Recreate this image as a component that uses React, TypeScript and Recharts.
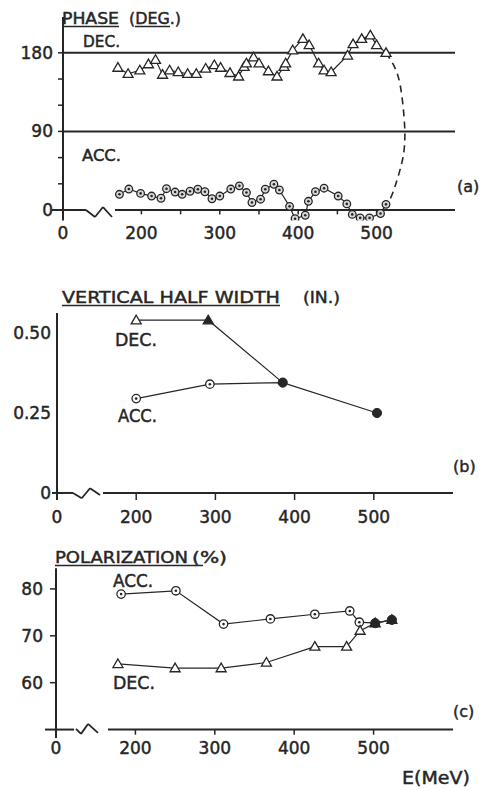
import React from 'react';
import { LineChart, Line, XAxis, YAxis, ReferenceLine } from 'recharts';

const FONT = '"DejaVu Sans", sans-serif';
const INK = '#262626';

// shared energy axis (broken: the "0" sits where 100 MeV would be)
const xTicks = [100, 200, 300, 400, 500];
const xTickLabels = ['0', '200', '300', '400', '500'];

// (a) phase, degrees
const decPhaseE = [170, 183, 198, 209, 218, 227, 236, 247, 259, 270, 282, 293, 301, 313, 324, 331, 334, 343, 350, 362, 373, 382, 384, 393, 406, 414, 426, 433, 442, 463, 470, 481, 492, 500, 512];
const decPhase = [163, 156, 160, 167, 172, 155, 160, 158, 156, 156, 162, 166, 163, 157, 153, 164, 168, 175, 168, 159, 153, 164, 168, 183, 196, 189, 168, 160, 158, 177, 190, 196, 200, 189, 180];
const accPhaseE = [172, 184, 199, 213, 225, 232, 243, 252, 262, 272, 281, 290, 300, 314, 325, 334, 341, 352, 358, 369, 376, 389, 396, 409, 413, 422, 433, 451, 462, 469, 479, 491, 505, 512];
const accPhase = [18, 24, 19, 16, 13.5, 24.4, 20.6, 18, 21.5, 23.8, 20.9, 12.9, 16, 24, 27.7, 20, 8.6, 12.4, 23.8, 29.5, 22.9, 4.2, -10, -6, 10, 21, 25, 16, 7, -5, -9, -9, -4, 6.5];
const joinE = [512, 526, 533, 536, 534, 527, 519, 512];
const joinPhase = [180, 157, 125, 90, 62, 37, 16, 6.5];
const phaseTicks = [0, 30, 60, 90, 120, 150, 180];
const phaseLabels = [0, 90, 180];

// (b) vertical half width, inches
const decWidthE = [200, 291, 385];
const decWidth = [0.54, 0.54, 0.345];
const accWidthE = [200, 293, 385, 504];
const accWidth = [0.295, 0.34, 0.345, 0.25];
const widthTicks = [0, 0.25, 0.5];
const widthLabels = ['0', '0.25', '0.50'];

// (c) polarization, percent
const accPolE = [182, 251, 311, 370, 426, 470, 482, 502, 523];
const accPol = [78.9, 79.6, 72.5, 73.6, 74.6, 75.3, 72.9, 72.7, 73.4];
const decPolE = [178, 250, 308, 365, 426, 466, 483, 502, 523];
const decPol = [64, 63.1, 63.1, 64.3, 67.7, 67.7, 71.1, 72.7, 73.4];
const polTicks = [60, 70, 80];

const pts = (es: number[], vs: number[]) => es.map((e, i) => ({ e, v: vs[i] }));
const fmtX = (v: number) => xTickLabels[xTicks.indexOf(v)] ?? '';

const triDot = (filled: number[] = [], skip: number[] = []) => (p: any) => {
  const { cx, cy, index } = p;
  if (cx == null || cy == null || skip.includes(index)) return <g key={`t${index}`} />;
  const f = filled.includes(index);
  return (
    <polygon
      key={`t${index}`}
      points={`${cx},${cy - 5} ${cx - 5},${cy + 3.6} ${cx + 5},${cy + 3.6}`}
      fill={f ? INK : '#fff'}
      stroke={INK}
      strokeWidth={1.3}
    />
  );
};

const circDot = (filled: number[] = [], bg = '#fff', r = 4.2) => (p: any) => {
  const { cx, cy, index } = p;
  if (cx == null || cy == null) return <g key={`c${index}`} />;
  if (filled.includes(index)) {
    return <circle key={`c${index}`} cx={cx} cy={cy} r={4.6} fill={INK} stroke={INK} strokeWidth={1} />;
  }
  return (
    <g key={`c${index}`}>
      <circle cx={cx} cy={cy} r={r} fill={bg} stroke={INK} strokeWidth={1.3} />
      <circle cx={cx} cy={cy} r={1.3} fill={INK} />
    </g>
  );
};

const seg = (x1: number, y1: number, x2: number, y2: number, w = 2, k = '') => (
  <ReferenceLine
    key={k || `${x1}-${y1}-${x2}-${y2}`}
    segment={[{ x: x1, y: y1 }, { x: x2, y: y2 }]}
    stroke={INK}
    strokeWidth={w}
    ifOverflow="visible"
  />
);

const tickStyle = { fill: INK, fontSize: 17, stroke: INK, strokeWidth: 0.45 };

function PanelA() {
  return (
    <LineChart width={481} height={250} margin={{ top: 17, right: 26, bottom: 4.5, left: 0 }}>
      <XAxis type="number" dataKey="e" domain={[100, 600]} ticks={xTicks} tickFormatter={fmtX} interval={0}
        axisLine={false} tickLine={false} tickSize={0} tickMargin={6.5} height={25} allowDataOverflow tick={tickStyle} />
      <YAxis type="number" dataKey="v" domain={[-12, 221]} ticks={phaseTicks} interval={0}
        tickFormatter={(v: number) => (phaseLabels.includes(v) ? String(v) : '')}
        width={63} allowDataOverflow axisLine={{ stroke: INK, strokeWidth: 2 }}
        tickLine={{ stroke: INK, strokeWidth: 1.5 }} tickSize={5} tickMargin={5} tick={tickStyle} />
      <ReferenceLine y={180} stroke={INK} strokeWidth={2} />
      <ReferenceLine y={90} stroke={INK} strokeWidth={2} />
      {seg(86, 0, 129.3, 0)}
      {seg(129.3, 0, 140.8, -8, 1.8)}
      {seg(140.8, -8, 151, 3.4, 1.8)}
      {seg(151, 3.4, 162.5, -8, 1.8)}
      {seg(166.3, 0, 600, 0)}
      {[200, 250, 300, 350, 400, 450, 500].map((x) => seg(x, 0, x, -5, 1.5, `ta${x}`))}
      <Line data={pts(joinE, joinPhase)} dataKey="v" type="natural" stroke={INK} strokeWidth={1.6}
        strokeDasharray="7 5" dot={false} isAnimationActive={false} />
      <Line data={pts(decPhaseE, decPhase)} dataKey="v" type="linear" stroke={INK} strokeWidth={1.2}
        dot={triDot()} isAnimationActive={false} />
      <Line data={pts(accPhaseE, accPhase)} dataKey="v" type="linear" stroke={INK} strokeWidth={1.2}
        dot={circDot([], '#d8d8d8', 3.8)} isAnimationActive={false} />
    </LineChart>
  );
}

function PanelB() {
  return (
    <LineChart width={481} height={250} margin={{ top: 33, right: 28, bottom: 5, left: 0 }}>
      <XAxis type="number" dataKey="e" domain={[100, 600]} ticks={xTicks} tickFormatter={fmtX} interval={0}
        axisLine={false} tickLine={false} tickSize={0} tickMargin={10.5} height={25} allowDataOverflow tick={tickStyle} />
      <YAxis type="number" dataKey="v" domain={[-0.022, 0.5625]} ticks={widthTicks} interval={0}
        tickFormatter={(v: number) => widthLabels[widthTicks.indexOf(v)] ?? ''}
        width={57} allowDataOverflow axisLine={{ stroke: INK, strokeWidth: 2 }}
        tickLine={false} tickSize={0} tickMargin={6} tick={tickStyle} />
      {seg(93.7, 0, 120.2, 0)}
      {seg(120.2, 0, 131.2, -0.0166, 1.8)}
      {seg(131.2, -0.0166, 141.7, 0.0147, 1.8)}
      {seg(141.7, 0.0147, 154.3, -0.00625, 1.8)}
      {seg(158.1, 0, 600, 0)}
      {[200, 300, 400, 500].map((x) => seg(x, 0, x, -0.022, 1.5, `tb${x}`))}
      <Line data={pts(accWidthE, accWidth)} dataKey="v" type="linear" stroke={INK} strokeWidth={1.2}
        dot={circDot([2, 3])} isAnimationActive={false} />
      <Line data={pts(decWidthE, decWidth)} dataKey="v" type="linear" stroke={INK} strokeWidth={1.2}
        dot={triDot([1], [2])} isAnimationActive={false} />
    </LineChart>
  );
}

function PanelC() {
  return (
    <LineChart width={481} height={250} margin={{ top: 28.3, right: 28, bottom: 27, left: 0 }}>
      <XAxis type="number" dataKey="e" domain={[100, 600]} ticks={xTicks} tickFormatter={fmtX} interval={0}
        axisLine={false} tickLine={false} tickSize={0} tickMargin={4} height={25} allowDataOverflow tick={tickStyle} />
      <YAxis type="number" dataKey="v" domain={[48.2, 84.4]} ticks={polTicks} interval={0}
        width={56} allowDataOverflow axisLine={{ stroke: INK, strokeWidth: 2 }}
        tickLine={{ stroke: INK, strokeWidth: 1.5 }} tickSize={6} tickMargin={7} tick={tickStyle} />
      {seg(86.1, 50, 122.7, 50)}
      {seg(125.2, 50.15, 131.5, 49.08, 1.8)}
      {seg(131.5, 49.08, 140.3, 51.2, 1.8)}
      {seg(140.3, 51.2, 152.9, 49.3, 1.8)}
      {seg(165.5, 50, 600, 50)}
      {[200, 300, 400, 500].map((x) => seg(x, 50, x, 48.9, 1.5, `tc${x}`))}
      <Line data={pts(accPolE, accPol)} dataKey="v" type="linear" stroke={INK} strokeWidth={1.2}
        dot={circDot([7, 8])} isAnimationActive={false} />
      <Line data={pts(decPolE, decPol)} dataKey="v" type="linear" stroke={INK} strokeWidth={1.2}
        dot={triDot([7, 8])} isAnimationActive={false} />
    </LineChart>
  );
}

function Labels() {
  const t = { fill: INK, fontFamily: FONT, stroke: INK, strokeWidth: 0.45 } as const;
  return (
    <svg width={481} height={790} style={{ position: 'absolute', left: 0, top: 0, pointerEvents: 'none' }}>
      {/* (a) */}
      <text x={62} y={23.5} fontSize={15} textLength={57} lengthAdjust="spacingAndGlyphs" {...t}>PHASE</text>
      <text x={129} y={23.5} fontSize={15} textLength={52} lengthAdjust="spacingAndGlyphs" {...t}>(DEG.)</text>
      <line x1={62} x2={119} y1={26.5} y2={26.5} stroke={INK} strokeWidth={1.5} />
      <line x1={135} x2={170} y1={26.5} y2={26.5} stroke={INK} strokeWidth={1.5} />
      <text x={83} y={47} fontSize={15} textLength={37} lengthAdjust="spacingAndGlyphs" {...t}>DEC.</text>
      <text x={82} y={161} fontSize={15} textLength={39} lengthAdjust="spacingAndGlyphs" {...t}>ACC.</text>
      <text x={457} y={192} fontSize={16} {...t}>(a)</text>
      {/* (b) */}
      <text x={62} y={302.5} fontSize={16} textLength={218} lengthAdjust="spacingAndGlyphs" {...t}>VERTICAL HALF WIDTH</text>
      <line x1={62} x2={280} y1={305.5} y2={305.5} stroke={INK} strokeWidth={1.5} />
      <text x={303} y={302.5} fontSize={16} textLength={37} lengthAdjust="spacingAndGlyphs" {...t}>(IN.)</text>
      <text x={115} y={345.5} fontSize={17} textLength={42} lengthAdjust="spacingAndGlyphs" {...t}>DEC.</text>
      <text x={118} y={422} fontSize={17} textLength={39} lengthAdjust="spacingAndGlyphs" {...t}>ACC.</text>
      <text x={453} y={472} fontSize={16} {...t}>(b)</text>
      {/* (c) */}
      <text x={55} y={562.5} fontSize={16} textLength={133} lengthAdjust="spacingAndGlyphs" {...t}>POLARIZATION</text>
      <text x={192} y={562.5} fontSize={16} textLength={35} lengthAdjust="spacingAndGlyphs" {...t}>(%)</text>
      <line x1={55} x2={203} y1={565.5} y2={565.5} stroke={INK} strokeWidth={1.5} />
      <text x={113} y={587} fontSize={17} textLength={40} lengthAdjust="spacingAndGlyphs" {...t}>ACC.</text>
      <text x={113} y={688.5} fontSize={17} textLength={42} lengthAdjust="spacingAndGlyphs" {...t}>DEC.</text>
      <text x={453} y={717} fontSize={16} {...t}>(c)</text>
      <text x={402} y={784} fontSize={17} textLength={68} lengthAdjust="spacingAndGlyphs" {...t}>E(MeV)</text>
    </svg>
  );
}

export default function App() {
  return (
    <div style={{ position: 'absolute', left: 0, top: 0, width: 481, height: 790, background: '#fff', fontFamily: FONT }}>
      <div style={{ position: 'absolute', left: 0, top: 0 }}><PanelA /></div>
      <div style={{ position: 'absolute', left: 0, top: 280 }}><PanelB /></div>
      <div style={{ position: 'absolute', left: 0, top: 540 }}><PanelC /></div>
      <Labels />
    </div>
  );
}
